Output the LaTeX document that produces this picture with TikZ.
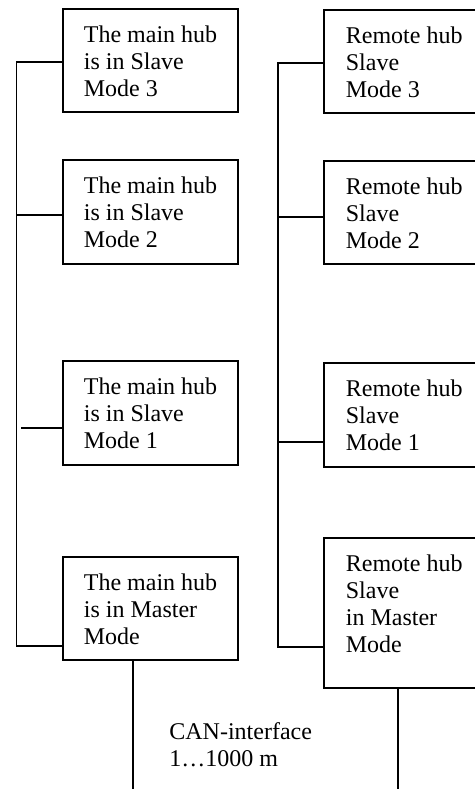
\documentclass[tikz,border=0pt]{standalone}
\usepackage{fontspec}
\setmainfont{Liberation Serif}
\newcommand{\hubtxt}[4]{\parbox[c][#2][t]{#1}{\raggedright\leftskip=#3\relax\vspace*{8.3pt}#4}}
\begin{document}
\begin{tikzpicture}[x=0.5pt,y=-0.5pt,
  hub/.style={draw, line width=0.9pt, inner sep=0pt, anchor=north west,
    font=\fontsize{12}{13.6}\selectfont},
  wire/.style={line width=0.9pt},
  lbl/.style={inner sep=0pt, anchor=north west, align=left,
    font=\fontsize{12}{13.6}\selectfont}]
\useasboundingbox (0,0) rectangle (475,789);
\clip (0,0) rectangle (475,789);
% left column
\node[hub] (L1) at (62,8)   {\hubtxt{87.5pt}{51.5pt}{10.5pt}{The main hub\\is in Slave\\Mode 3}};
\node[hub] (L2) at (62,159) {\hubtxt{87.5pt}{52pt}{10.5pt}{The main hub\\is in Slave\\Mode 2}};
\node[hub] (L3) at (62,360) {\hubtxt{87.5pt}{52pt}{10.5pt}{The main hub\\is in Slave\\Mode 1}};
\node[hub] (L4) at (62,556) {\hubtxt{87.5pt}{51.5pt}{10.5pt}{The main hub\\is in Master\\Mode}};
% right column
\node[hub] (R1) at (323,9)   {\hubtxt{100pt}{51.5pt}{11pt}{Remote hub\\Slave\\Mode 3}};
\node[hub] (R2) at (323,160) {\hubtxt{100pt}{51.5pt}{11pt}{Remote hub\\Slave\\Mode 2}};
\node[hub] (R3) at (323,362) {\hubtxt{100pt}{52pt}{11pt}{Remote hub\\Slave\\Mode 1}};
\node[hub] (R4) at (323,537) {\hubtxt{100pt}{75pt}{11pt}{Remote hub\\Slave\\in Master\\Mode}};
% CAN label
\node[lbl] (can) at (169,722) {CAN-interface\\1…1000 m};
% left bus
\coordinate (lt) at (16.5,62);
\coordinate (lb) at (16.5,646);
\coordinate (lj2) at (16.5,215);
\coordinate (lj3) at (21,428);
\coordinate (lcan) at (133,789);
\draw[wire] (L1.west |- lt) -- (lt) -- (lb) -- (L4.west |- lb);
\draw[wire] (lj2) -- (L2.west |- lj2);
\draw[wire] (lj3) -- (L3.west |- lj3);
\draw[wire] (L4.south -| lcan) -- (lcan);
% right bus
\coordinate (rt) at (278,63);
\coordinate (rb) at (278,647);
\coordinate (rj2) at (278,217);
\coordinate (rj3) at (278,442);
\coordinate (rcan) at (398,789);
\draw[wire] (R1.west |- rt) -- (rt) -- (rb) -- (R4.west |- rb);
\draw[wire] (rj2) -- (R2.west |- rj2);
\draw[wire] (rj3) -- (R3.west |- rj3);
\draw[wire] (R4.south -| rcan) -- (rcan);
\end{tikzpicture}
\end{document}
